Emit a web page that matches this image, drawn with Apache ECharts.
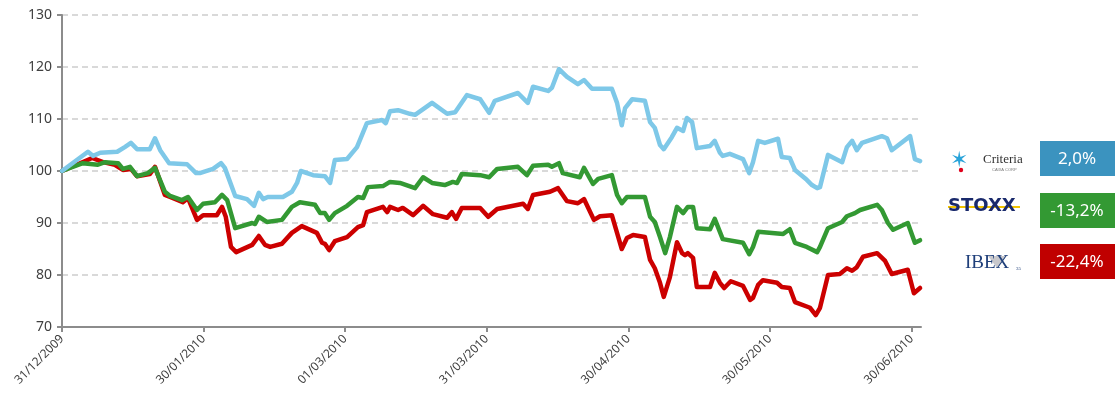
<!DOCTYPE html>
<html>
<head>
<meta charset="utf-8">
<script src="https://cdn.jsdelivr.net/npm/echarts@6/dist/echarts.min.js"></script>
<style>
  html, body { margin: 0; padding: 0; background: #fff; }
  #chart { width: 1115px; height: 410px; }
</style>
</head>
<body>
<div id="chart"></div>
<script>
// days counted from 31/12/2009
const tickLabels = ['31/12/2009', '30/01/2010', '01/03/2010', '31/03/2010', '30/04/2010', '30/05/2010', '30/06/2010'];

const criteriaDays = [0, 5.5, 6.6, 8.1, 11.7, 13.3, 14.6, 15.9, 18.6, 19.7, 20.8, 22.7, 26.5, 28.4, 29.2, 32.0, 33.7, 34.5, 36.7, 39.2,
  40.7, 41.7, 42.6, 43.6, 46.8, 48.7, 49.8, 50.6, 53.2, 55.7, 56.8, 57.8, 60.4, 62.5, 64.6, 67.8, 68.6, 69.5, 71.2, 73.7,
  74.8, 78.4, 81.6, 83.3, 85.8, 88.6, 90.5, 91.7, 96.6, 98.7, 99.8, 103.0, 103.8, 105.3, 107.0, 109.3, 110.6, 112.3, 116.5, 117.6,
  118.6, 119.3, 120.8, 123.5, 124.6, 125.6, 126.7, 127.5, 129.2, 130.3, 131.6, 132.4, 133.5, 134.5, 137.3, 138.3, 139.4, 140.0, 141.5, 144.3,
  145.6, 146.4, 147.5, 148.9, 151.7, 152.5, 154.2, 155.3, 157.8, 158.9, 160.0, 160.6, 162.3, 165.3, 166.3, 167.4, 168.4, 169.5, 173.7, 174.8,
  175.8, 179.7, 180.7, 181.8];
const criteria = [100.0, 103.7, 102.9, 103.5, 103.7, 104.6, 105.4, 104.2, 104.2, 106.3, 104.0, 101.5, 101.3, 99.6, 99.6, 100.4, 101.5, 100.6, 95.2, 94.6,
  93.3, 95.8, 94.6, 95.0, 95.0, 96.0, 97.7, 100.0, 99.2, 99.0, 97.7, 102.1, 102.3, 104.6, 109.2, 109.8, 109.2, 111.5, 111.7, 111.0,
  110.8, 113.1, 111.0, 111.3, 114.6, 113.8, 111.2, 113.5, 115.0, 113.1, 116.2, 115.4, 116.0, 119.6, 118.1, 116.7, 117.5, 115.8, 115.8, 113.1,
  108.8, 112.1, 113.8, 113.5, 109.4, 108.3, 105.0, 104.2, 106.5, 108.3, 107.7, 110.2, 109.4, 104.4, 104.8, 105.8, 103.5, 102.9, 103.3, 102.3,
  99.6, 101.7, 105.8, 105.4, 106.2, 102.7, 102.5, 100.2, 98.3, 97.3, 96.7, 96.9, 103.1, 101.7, 104.6, 105.8, 104.0, 105.4, 106.7, 106.3,
  104.0, 106.7, 102.3, 101.9];

const stoxxDays = [0, 4.4, 7.6, 9.1, 11.9, 12.9, 14.4, 15.9, 18.2, 19.7, 21.8, 22.9, 25.4, 26.7, 28.6, 29.9, 32.4, 33.9, 35.0, 36.7,
  40.3, 40.9, 41.7, 43.4, 46.6, 48.7, 50.4, 53.6, 54.7, 55.7, 56.6, 57.8, 60.4, 62.7, 63.8, 64.8, 68.0, 69.5, 71.6, 74.8,
  76.5, 78.4, 81.1, 82.8, 83.7, 84.7, 88.6, 90.5, 92.2, 96.6, 98.5, 99.8, 103.0, 103.8, 105.3, 106.1, 109.7, 110.6, 112.5, 113.6,
  116.5, 117.6, 118.6, 119.7, 123.5, 124.6, 125.6, 126.7, 127.8, 128.8, 130.3, 131.6, 132.6, 133.7, 134.5, 137.3, 138.3, 140.0, 144.3, 145.6,
  146.4, 147.5, 152.8, 154.2, 155.3, 157.8, 160.0, 160.6, 162.3, 165.3, 166.3, 168.0, 169.1, 172.7, 173.7, 175.0, 176.1, 179.2, 180.7, 181.8];
const stoxx = [100.0, 101.5, 101.2, 101.7, 101.5, 100.4, 100.8, 99.0, 99.6, 100.6, 96.0, 95.2, 94.4, 95.0, 92.5, 93.7, 94.0, 95.4, 94.4, 89.0,
  90.0, 89.8, 91.2, 90.2, 90.6, 93.1, 94.0, 93.5, 91.9, 91.9, 90.6, 91.9, 93.3, 95.0, 94.8, 96.9, 97.1, 97.9, 97.7, 96.7,
  98.8, 97.7, 97.3, 97.9, 97.7, 99.4, 99.2, 98.8, 100.4, 100.8, 99.2, 101.0, 101.2, 100.8, 101.5, 99.6, 98.8, 100.6, 97.5, 98.5,
  99.2, 95.4, 93.8, 95.0, 95.0, 91.2, 90.2, 87.3, 84.2, 87.3, 93.1, 91.9, 93.1, 93.1, 89.0, 88.8, 90.8, 86.9, 86.2, 84.0,
  85.4, 88.3, 87.9, 88.8, 86.2, 85.4, 84.4, 85.4, 89.0, 90.2, 91.3, 91.9, 92.5, 93.5, 92.5, 90.0, 88.7, 90.0, 86.2, 86.7];

const ibexDays = [0, 6.4, 8.7, 11.2, 12.9, 14.6, 15.9, 18.6, 19.7, 21.8, 22.9, 25.6, 26.7, 28.6, 29.9, 32.8, 33.9, 34.7, 35.8, 36.9,
  40.3, 41.7, 43.0, 44.1, 46.6, 48.7, 50.8, 54.0, 55.1, 55.7, 56.6, 57.8, 60.4, 62.7, 63.8, 64.6, 68.0, 68.9, 69.5, 71.2,
  72.2, 74.4, 76.5, 78.6, 81.6, 82.6, 83.5, 84.7, 88.6, 90.3, 92.2, 97.7, 98.7, 99.8, 103.4, 105.1, 107.0, 109.3, 110.6, 112.7,
  114.0, 116.5, 117.6, 118.6, 119.7, 121.0, 123.5, 124.6, 125.6, 126.7, 127.5, 128.8, 130.3, 131.4, 132.0, 132.6, 133.7, 134.5, 137.3, 138.3,
  139.4, 140.3, 141.7, 144.3, 145.8, 146.4, 147.5, 148.5, 151.5, 152.5, 154.2, 155.3, 158.5, 159.7, 160.6, 162.3, 164.8, 166.3, 167.4, 168.4,
  169.7, 172.7, 174.4, 175.8, 179.2, 180.5, 181.8];
const ibex = [100.0, 102.5, 101.7, 101.2, 100.2, 100.4, 99.0, 99.4, 100.8, 95.4, 95.0, 94.0, 94.8, 90.6, 91.5, 91.5, 93.1, 91.2, 85.4, 84.4,
  85.8, 87.5, 85.8, 85.4, 86.0, 88.1, 89.4, 88.1, 86.2, 86.0, 84.8, 86.5, 87.3, 89.2, 89.6, 92.1, 93.1, 92.1, 93.1, 92.5,
  92.9, 91.5, 93.3, 91.7, 91.0, 92.1, 90.8, 92.9, 92.9, 91.2, 92.7, 93.7, 92.7, 95.4, 96.0, 96.7, 94.2, 93.8, 94.6, 90.6,
  91.3, 91.5, 88.1, 85.0, 87.1, 87.7, 87.3, 82.9, 81.3, 78.5, 75.8, 79.6, 86.3, 84.2, 83.8, 84.2, 83.3, 77.7, 77.7, 80.4,
  78.5, 77.5, 78.8, 77.9, 75.2, 75.6, 78.1, 79.0, 78.5, 77.7, 77.5, 74.8, 73.7, 72.3, 73.7, 80.0, 80.2, 81.3, 80.8, 81.5,
  83.5, 84.2, 82.7, 80.2, 81.0, 76.5, 77.5];

const perfLabels = ['2,0%', '-13,2%', '-22,4%'];
const perfColors = ['#3b93bf', '#339933', '#c00000'];

const pairs = (xs, ys) => xs.map((x, i) => [x, ys[i]]);

const myChart = echarts.init(document.getElementById('chart'));

const lineOf = (name, color, data) => ({
  name: name,
  type: 'line',
  data: data,
  showSymbol: false,
  symbol: 'none',
  animation: false,
  lineStyle: {color: color, width: 4.5, cap: 'round', join: 'round'},
  itemStyle: {color: color}
});

const boxes = perfLabels.map((t, i) => ({
  type: 'group',
  left: 1040,
  top: [141, 193, 244][i],
  children: [
    {type: 'rect', shape: {x: 0, y: 0, width: 75, height: 35}, style: {fill: perfColors[i]}},
    {type: 'text', x: 37, y: 18, style: {
      text: t, fill: '#fff', font: '17px "Noto Sans"', align: 'center', verticalAlign: 'middle'
    }}
  ]
}));

const logos = [
  // Criteria
  {type: 'text', left: 950, top: 150, z: 10, style: {text: '✶', fill: '#29a3d9', font: '22px "DejaVu Sans"'}},
  {type: 'circle', z: 11, shape: {cx: 961, cy: 170, r: 2.2}, style: {fill: '#e0001b'}},
  {type: 'text', left: 983, top: 153, z: 10, style: {text: 'Criteria', fill: '#333', font: '13px "Liberation Serif"'}},
  {type: 'text', left: 992, top: 168, z: 10, style: {text: 'CAIXA CORP', fill: '#777', font: '4px "Liberation Sans"'}},
  // STOXX
  {type: 'rect', z: 10, shape: {x: 948, y: 206, width: 72, height: 2}, style: {fill: '#f2c300'}},
  {type: 'text', left: 948, top: 197, z: 11, style: {text: 'STOXX', fill: '#1a2a6c', font: 'bold 18px "DejaVu Sans"'}},
  // IBEX 35
  {type: 'polygon', z: 10, shape: {points: [[988, 256], [1006, 256], [997, 268]]}, style: {fill: '#c8c8cc'}},
  {type: 'text', left: 965, top: 254, z: 11, style: {text: 'IBEX', fill: '#1f3f7a', font: '19px "Liberation Serif"'}},
  {type: 'text', left: 1016, top: 266, z: 11, style: {text: '35', fill: '#1f3f7a', font: '5px "Liberation Serif"'}}
];

const option = {
  animation: false,
  backgroundColor: '#ffffff',
  grid: {left: 62, right: 194, top: 15, bottom: 83},
  xAxis: {
    type: 'value',
    min: 0,
    max: 182,
    interval: 30,
    splitLine: {show: false},
    axisLine: {show: true, lineStyle: {color: '#8c8c8c', width: 2}},
    axisTick: {show: true, length: 5, lineStyle: {color: '#8c8c8c', width: 2}},
    axisLabel: {
      rotate: 45,
      color: '#404040',
      fontSize: 12,
      fontFamily: 'Noto Sans',
      margin: 10,
      showMaxLabel: false,
      formatter: v => tickLabels[Math.round(v / 30)] || ''
    }
  },
  yAxis: {
    type: 'value',
    min: 70,
    max: 130,
    interval: 10,
    axisLine: {show: true, lineStyle: {color: '#8c8c8c', width: 2}},
    axisTick: {show: true, length: 5, lineStyle: {color: '#8c8c8c', width: 2}},
    axisLabel: {color: '#404040', fontSize: 14, fontFamily: 'Noto Sans', margin: 10},
    splitLine: {show: true, lineStyle: {color: '#d9d9d9', width: 2, type: [6, 4]}}
  },
  series: [
    lineOf('IBEX 35', '#cc0000', pairs(ibexDays, ibex)),
    lineOf('STOXX', '#339933', pairs(stoxxDays, stoxx)),
    lineOf('Criteria', '#7ec8e8', pairs(criteriaDays, criteria))
  ],
  graphic: boxes.concat(logos)
};

myChart.setOption(option);
</script>
</body>
</html>
